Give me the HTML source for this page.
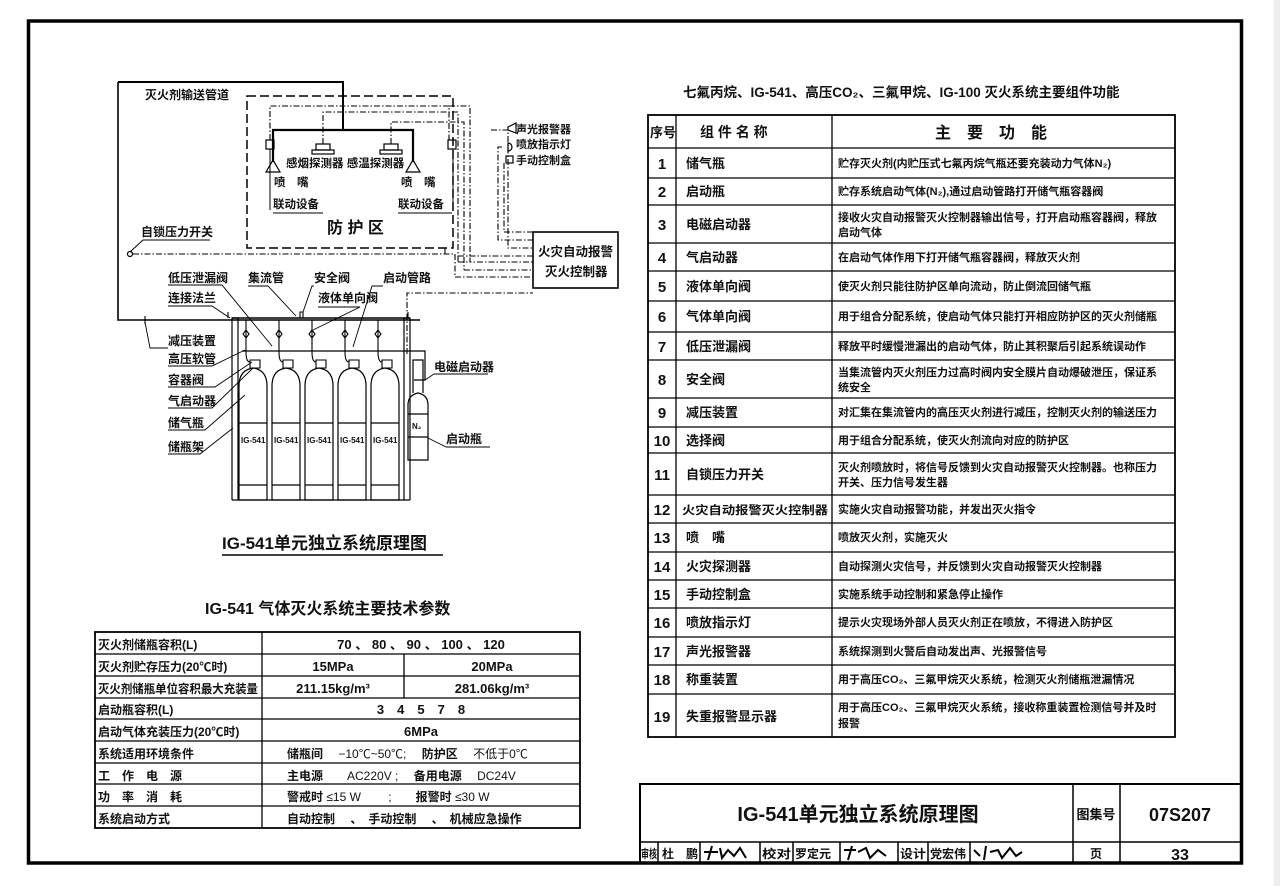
<!DOCTYPE html>
<html><head><meta charset="utf-8"><style>
html,body{margin:0;padding:0;background:#fff;width:1280px;height:886px;overflow:hidden}
svg text{font-family:"Liberation Sans","Noto Sans CJK SC",sans-serif;font-weight:bold;fill:#111}
</style></head><body>
<svg width="1280" height="886" viewBox="0 0 1280 886" xmlns="http://www.w3.org/2000/svg">
<rect x="1274" y="0" width="6" height="886" fill="#eee"/>
<rect x="28.5" y="21" width="1213" height="842" fill="none" stroke="#000" stroke-width="3.5"/>

<!-- ===== Diagram ===== -->
<g fill="none" stroke="#000">
 <path d="M118 82 H343 V130" stroke-width="2"/>
 <path d="M118 82 V320 H420" stroke-width="1.6"/>
 <path d="M273 162 V130 H413 V162" stroke-width="2.2"/>
 <path d="M266 172 L273 160 L280 172 Z" stroke-width="1.2"/>
 <path d="M406 172 L413 160 L420 172 Z" stroke-width="1.2"/>
 <rect x="247" y="96" width="206" height="152" stroke-dasharray="9,4" stroke-width="1.5"/>
 <rect x="266" y="140" width="8" height="9" stroke-width="1.2"/>
 <rect x="448" y="140" width="8" height="9" stroke-width="1.2"/>
 <path d="M270 140 V106 H449 V140" stroke-dasharray="6,2,1.5,2" stroke-width="1.1"/>
 <path d="M270 149 V210 M453 149 V210" stroke-width="1"/>
 <rect x="316" y="144" width="14" height="6" stroke-width="1.2"/><rect x="312" y="150" width="22" height="4" stroke-width="1.2"/>
 <rect x="384" y="144" width="14" height="6" stroke-width="1.2"/><rect x="380" y="150" width="22" height="4" stroke-width="1.2"/>
 <path d="M323 144 V112 H458 V262" stroke-dasharray="6,2,1.5,2" stroke-width="1.1"/>
 <path d="M391 144 V122 H464 V270" stroke-dasharray="6,2,1.5,2" stroke-width="1.1"/>
 <path d="M449 106 H470 V262 H533" stroke-dasharray="6,2,1.5,2" stroke-width="1.1"/>
 <path d="M458 262 H470 M464 270 H533" stroke-dasharray="6,2,1.5,2" stroke-width="1.1"/>
 <path d="M458 256 H533 M445 248 V254" stroke-dasharray="6,2,1.5,2" stroke-width="1.1"/>
 <path d="M491 130 H508 V248 H533" stroke-dasharray="6,2,1.5,2" stroke-width="1.1"/>
 <path d="M502 147 H498 V240 H533" stroke-dasharray="6,2,1.5,2" stroke-width="1.1"/>
 <path d="M504 163 V232 H533" stroke-dasharray="6,2,1.5,2" stroke-width="1.1"/>
 <path d="M508 127 L516 123 V133 L508 130 Z" stroke-width="1.2"/>
 <path d="M508 143 A4 4 0 0 1 508 151 Z" stroke-width="1.2"/>
 <rect x="506" y="156" width="7" height="7" stroke-width="1.2"/>
 <rect x="533" y="232" width="85" height="56" stroke-width="1.6"/>
 <circle cx="130" cy="254" r="2.5" stroke-width="1.2"/>
 <path d="M133 254 H455 V277 H533" stroke-dasharray="6,2,1.5,2" stroke-width="1.1"/>
 <path d="M130 252 L143 240 H210" stroke-width="1"/>
 <path d="M407 354 V293 H533" stroke-dasharray="6,2,1.5,2" stroke-width="1.1"/>
 <path d="M232 500 V318 H238 V500 M404 500 V318 H410 V500" stroke-width="1.2"/>
 <path d="M232 318 H410" stroke-width="1.6"/>
 <path d="M232 500 H410" stroke-width="1.2"/>
 <path d="M242 351 H425 V380 H414" stroke-width="1.2"/>
 <g stroke-width="1.2">
  <path d="M239 500 V386 Q239 370 253 368 Q267 370 267 386 V500 Z"/>
  <path d="M272 500 V386 Q272 370 286 368 Q300 370 300 386 V500 Z"/>
  <path d="M305 500 V386 Q305 370 319 368 Q333 370 333 386 V500 Z"/>
  <path d="M338 500 V386 Q338 370 352 368 Q366 370 366 386 V500 Z"/>
  <path d="M371 500 V386 Q371 370 385 368 Q399 370 399 386 V500 Z"/>
  <path d="M239 423 H267 M272 423 H300 M305 423 H333 M338 423 H366 M371 423 H399"/>
  <path d="M239 485 H267 M272 485 H300 M305 485 H333 M338 485 H366 M371 485 H399"/>
  <path d="M408 460 V405 Q408 395 418 393 Q428 395 428 405 V460 Z"/>
  <path d="M408 414 H428 M408 437 H428"/>
  <path d="M413 393 V360 H423 V393"/>
 </g>
 <g stroke-width="1.1">
  <path d="M246 320 V352 M279 320 V352 M312 320 V352 M345 320 V352 M378 320 V352"/>
  <path d="M250 360 h10 v8 h-10z M283 360 h10 v8 h-10z M316 360 h10 v8 h-10z M349 360 h10 v8 h-10z M382 360 h10 v8 h-10z"/>
  <path d="M243 334 l3 -4 l3 4 l-3 4z M276 334 l3 -4 l3 4 l-3 4z M309 334 l3 -4 l3 4 l-3 4z M342 334 l3 -4 l3 4 l-3 4z M375 334 l3 -4 l3 4 l-3 4z"/>
  <path d="M246 352 Q246 362 250 362 M279 352 Q279 362 283 362 M312 352 Q312 362 316 362 M345 352 Q345 362 349 362 M378 352 Q378 362 382 362"/>
  <path d="M300 318 v-6 h3 v6"/>
  <path d="M228 318 v-6 M408 318 v-6 M145 316 v8"/>
 </g>
 <g stroke-width="0.9">
  <path d="M168 285 H222 L272 346"/>
  <path d="M168 306 H212 L230 318"/>
  <path d="M248 286 H268 L296 316"/>
  <path d="M314 286 H312 L303 312"/>
  <path d="M318 307 H360 L313 330"/>
  <path d="M383 286 H372 L353 347"/>
  <path d="M168 348 H150 L145 322"/>
  <path d="M168 366 H212 L245 350"/>
  <path d="M168 387 H215 L252 362"/>
  <path d="M168 408 H212 L253 368"/>
  <path d="M168 430 H205 L245 395"/>
  <path d="M168 454 H200 L233 428"/>
  <path d="M434 374 H488 M434 374 L425 380"/>
  <path d="M446 447 H490 M446 447 L428 438"/>
  <path d="M273 213 H323 M398 213 H452"/>
 </g>
</g>
<g font-size="12">
 <text x="145" y="99">灭火剂输送管道</text>
 <text x="516" y="133" font-size="11">声光报警器</text>
 <text x="516" y="148" font-size="11">喷放指示灯</text>
 <text x="516" y="164" font-size="11">手动控制盒</text>
 <text x="286" y="167" font-size="11.5">感烟探测器 感温探测器</text>
 <text x="274" y="186" font-size="11.5">喷　嘴</text>
 <text x="401" y="186" font-size="11.5">喷　嘴</text>
 <text x="273" y="208" font-size="11.5">联动设备</text>
 <text x="398" y="208" font-size="11.5">联动设备</text>
 <text x="327" y="233" font-size="16" font-weight="normal">防 护 区</text>
 <text x="141" y="236">自锁压力开关</text>
 <text x="538" y="256" font-size="12.5">火灾自动报警</text>
 <text x="545" y="276" font-size="12.5">灭火控制器</text>
 <text x="168" y="282">低压泄漏阀</text>
 <text x="168" y="302">连接法兰</text>
 <text x="248" y="282">集流管</text>
 <text x="314" y="282">安全阀</text>
 <text x="318" y="302">液体单向阀</text>
 <text x="383" y="282">启动管路</text>
 <text x="168" y="345">减压装置</text>
 <text x="168" y="363">高压软管</text>
 <text x="168" y="384">容器阀</text>
 <text x="168" y="405">气启动器</text>
 <text x="168" y="427">储气瓶</text>
 <text x="168" y="451">储瓶架</text>
 <text x="434" y="371">电磁启动器</text>
 <text x="446" y="443">启动瓶</text>
 <g font-size="8">
  <text x="241" y="443">IG-541</text><text x="274" y="443">IG-541</text><text x="307" y="443">IG-541</text><text x="340" y="443">IG-541</text><text x="373" y="443">IG-541</text>
  <text x="412" y="429">N₂</text>
 </g>
</g>
<text x="222" y="549" font-size="17">IG-541单元独立系统原理图</text>
<path d="M222 555 H443" stroke="#000" stroke-width="1.5"/>

<text x="205" y="614" font-size="16">IG-541 气体灭火系统主要技术参数</text>
<g fill="none" stroke="#000" stroke-width="1.3">
 <rect x="95" y="632" width="485" height="196" stroke-width="1.8"/>
 <path d="M95 654 H580 M95 676 H580 M95 698 H580 M95 719 H580 M95 741 H580 M95 763 H580 M95 784 H580 M95 806 H580"/>
 <path d="M262 632 V828 M404 654 V698"/>
</g>
<g font-size="12">
 <text x="98" y="649">灭火剂储瓶容积(L)</text>
 <text x="98" y="671">灭火剂贮存压力(20℃时)</text>
 <text x="98" y="693" textLength="160" lengthAdjust="spacingAndGlyphs">灭火剂储瓶单位容积最大充装量</text>
 <text x="98" y="714">启动瓶容积(L)</text>
 <text x="98" y="736">启动气体充装压力(20℃时)</text>
 <text x="98" y="758">系统适用环境条件</text>
 <text x="98" y="780">工　作　电　源</text>
 <text x="98" y="801">功　率　消　耗</text>
 <text x="98" y="823">系统启动方式</text>
 <g font-weight="normal" font-size="13">
 <text x="421" y="649" text-anchor="middle">70 、 80 、 90 、 100 、 120</text>
 <text x="333" y="671" text-anchor="middle">15MPa</text>
 <text x="492" y="671" text-anchor="middle">20MPa</text>
 <text x="333" y="693" text-anchor="middle">211.15kg/m³</text>
 <text x="492" y="693" text-anchor="middle">281.06kg/m³</text>
 <text x="421" y="714" text-anchor="middle">3　4　5　7　8</text>
 <text x="421" y="736" text-anchor="middle">6MPa</text>
 </g>
 <text x="287" y="758">储瓶间 <tspan font-weight="normal">　−10℃~50℃;</tspan>　 防护区　 <tspan font-weight="normal">不低于0℃</tspan></text>
 <text x="287" y="780">主电源　　<tspan font-weight="normal">AC220V ;</tspan>　 备用电源　 <tspan font-weight="normal">DC24V</tspan></text>
 <text x="287" y="801">警戒时 <tspan font-weight="normal">≤15 W　　 ;　　</tspan>报警时 <tspan font-weight="normal">≤30 W</tspan></text>
 <text x="287" y="823">自动控制　 、　手动控制　 、　机械应急操作</text>
</g>

<text x="683" y="97" font-size="13.5">七氟丙烷、IG-541、高压CO₂、三氟甲烷、IG-100 灭火系统主要组件功能</text>
<g fill="none" stroke="#000" stroke-width="1.3">
 <rect x="648" y="115" width="527" height="622" stroke-width="1.8"/>
 <path d="M648 148 H1175 M648 178 H1175 M648 205 H1175 M648 243 H1175 M648 271 H1175 M648 301 H1175 M648 332 H1175 M648 360 H1175 M648 398 H1175 M648 427 H1175 M648 453 H1175 M648 495 H1175 M648 523 H1175 M648 552 H1175 M648 580 H1175 M648 608 H1175 M648 637 H1175 M648 665 H1175 M648 694 H1175"/>
 <path d="M676 115 V737 M832 115 V737"/>
</g>
<g font-size="14">
 <text x="650" y="137" font-size="13">序号</text>
 <text x="700" y="137">组 件 名 称</text>
 <text x="935" y="138" font-size="16">主　要　功　能</text>
</g>
<g font-size="15" text-anchor="middle">
 <text x="662" y="169" font-weight="normal">1</text><text x="662" y="197" font-weight="normal">2</text><text x="662" y="230" font-weight="normal">3</text><text x="662" y="263" font-weight="normal">4</text><text x="662" y="292" font-weight="normal">5</text><text x="662" y="322" font-weight="normal">6</text><text x="662" y="352" font-weight="normal">7</text><text x="662" y="385" font-weight="normal">8</text><text x="662" y="418" font-weight="normal">9</text><text x="662" y="446" font-weight="normal">10</text><text x="662" y="480" font-weight="normal">11</text><text x="662" y="515" font-weight="normal">12</text><text x="662" y="543" font-weight="normal">13</text><text x="662" y="572" font-weight="normal">14</text><text x="662" y="600" font-weight="normal">15</text><text x="662" y="628" font-weight="normal">16</text><text x="662" y="657" font-weight="normal">17</text><text x="662" y="685" font-weight="normal">18</text><text x="662" y="722" font-weight="normal">19</text>
</g>
<g font-size="13">
 <text x="686" y="168">储气瓶</text><text x="686" y="196">启动瓶</text><text x="686" y="229">电磁启动器</text><text x="686" y="262">气启动器</text><text x="686" y="291">液体单向阀</text><text x="686" y="321">气体单向阀</text><text x="686" y="351">低压泄漏阀</text><text x="686" y="384">安全阀</text><text x="686" y="417">减压装置</text><text x="686" y="445">选择阀</text><text x="686" y="479">自锁压力开关</text><text x="682" y="514" font-size="11.5" textLength="146" lengthAdjust="spacingAndGlyphs">火灾自动报警灭火控制器</text><text x="686" y="542">喷　嘴</text><text x="686" y="571">火灾探测器</text><text x="686" y="599">手动控制盒</text><text x="686" y="627">喷放指示灯</text><text x="686" y="656">声光报警器</text><text x="686" y="684">称重装置</text><text x="686" y="721">失重报警显示器</text>
</g>
<g font-size="11">
 <text x="838" y="167">贮存灭火剂(内贮压式七氟丙烷气瓶还要充装动力气体N₂)</text>
 <text x="838" y="195">贮存系统启动气体(N₂),通过启动管路打开储气瓶容器阀</text>
 <text x="838" y="221">接收火灾自动报警灭火控制器输出信号，打开启动瓶容器阀，释放</text>
 <text x="838" y="236">启动气体</text>
 <text x="838" y="261">在启动气体作用下打开储气瓶容器阀，释放灭火剂</text>
 <text x="838" y="290">使灭火剂只能往防护区单向流动，防止倒流回储气瓶</text>
 <text x="838" y="320">用于组合分配系统，使启动气体只能打开相应防护区的灭火剂储瓶</text>
 <text x="838" y="350">释放平时缓慢泄漏出的启动气体，防止其积聚后引起系统误动作</text>
 <text x="838" y="376">当集流管内灭火剂压力过高时阀内安全膜片自动爆破泄压，保证系</text>
 <text x="838" y="391">统安全</text>
 <text x="838" y="416">对汇集在集流管内的高压灭火剂进行减压，控制灭火剂的输送压力</text>
 <text x="838" y="444">用于组合分配系统，使灭火剂流向对应的防护区</text>
 <text x="838" y="471">灭火剂喷放时，将信号反馈到火灾自动报警灭火控制器。也称压力</text>
 <text x="838" y="486">开关、压力信号发生器</text>
 <text x="838" y="513">实施火灾自动报警功能，并发出灭火指令</text>
 <text x="838" y="541">喷放灭火剂，实施灭火</text>
 <text x="838" y="570">自动探测火灾信号，并反馈到火灾自动报警灭火控制器</text>
 <text x="838" y="598">实施系统手动控制和紧急停止操作</text>
 <text x="838" y="626">提示火灾现场外部人员灭火剂正在喷放，不得进入防护区</text>
 <text x="838" y="655">系统探测到火警后自动发出声、光报警信号</text>
 <text x="838" y="683">用于高压CO₂、三氟甲烷灭火系统，检测灭火剂储瓶泄漏情况</text>
 <text x="838" y="711">用于高压CO₂、三氟甲烷灭火系统，接收称重装置检测信号并及时</text>
 <text x="838" y="727">报警</text>
</g>

<g fill="none" stroke="#000" stroke-width="1.5">
 <path d="M640 863 V784 H1241" stroke-width="2"/>
 <path d="M640 842 H1241"/>
 <path d="M1073 784 V863 M1120 784 V863"/>
 <path d="M658 842 V863 M700 842 V863 M760 842 V863 M793 842 V863 M840 842 V863 M898 842 V863 M928 842 V863 M970 842 V863"/>
</g>
<text x="858" y="821" font-size="20" text-anchor="middle">IG-541单元独立系统原理图</text>
<text x="1096" y="819" font-size="13" text-anchor="middle">图集号</text>
<text x="1180" y="821" font-size="18" font-weight="normal" text-anchor="middle">07S207</text>
<g font-size="12">
 <text x="641" y="858" textLength="16" lengthAdjust="spacingAndGlyphs">审核</text><text x="662" y="858">杜　鹏</text>
 <text x="762" y="858" textLength="29" lengthAdjust="spacingAndGlyphs">校对</text><text x="795" y="858">罗定元</text>
 <text x="900" y="858" textLength="26" lengthAdjust="spacingAndGlyphs">设计</text><text x="930" y="858">党宏伟</text>
 <text x="1096" y="858" text-anchor="middle">页</text>
</g>
<text x="1180" y="860" font-size="16" font-weight="normal" text-anchor="middle">33</text>
<g fill="none" stroke="#000" stroke-width="2">
 <path d="M704 852 H718 M712 846 L708 860 M720 848 L722 858 L728 850 L734 856 L740 848 L746 858"/>
 <path d="M844 850 H856 M852 846 L848 860 M858 852 L866 848 L870 858 L878 850 L886 856"/>
 <path d="M974 850 L980 856 M986 846 L984 860 M990 852 L998 850 L1002 858 L1010 848 L1016 856 L1022 852"/>
</g>
</svg>
</body></html>
